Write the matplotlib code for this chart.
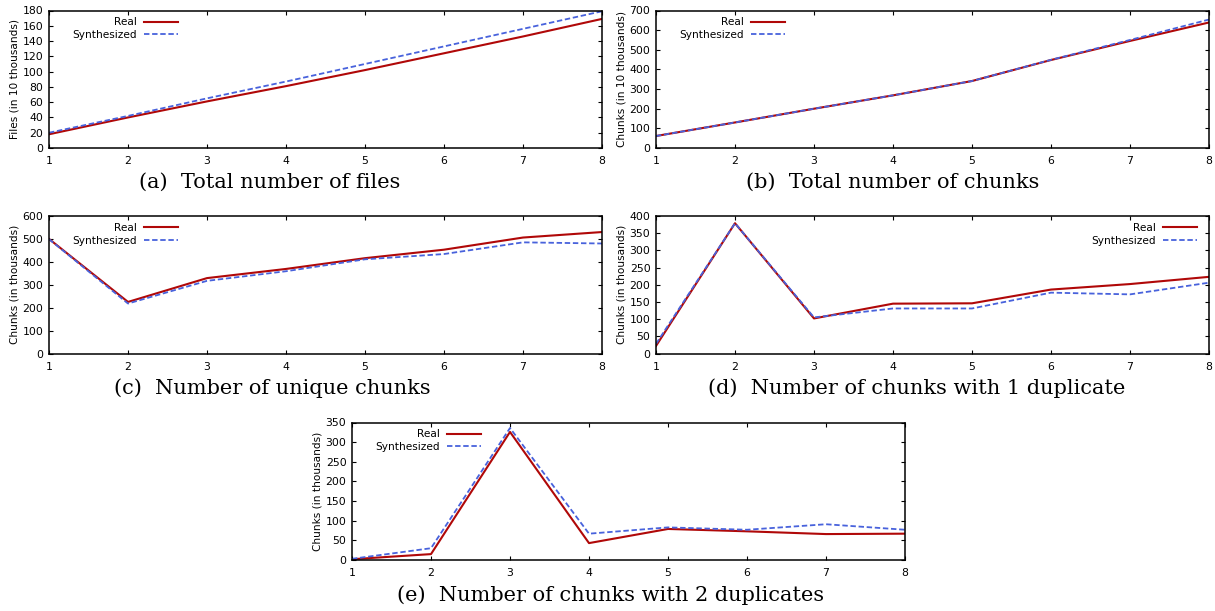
import matplotlib
matplotlib.use("Agg")
import matplotlib.pyplot as plt

plt.rcParams['font.family'] = ['DejaVu Sans']

# x axis: 1..8
x = [1, 2, 3, 4, 5, 6, 7, 8]

# (a) files, in 10 thousands
files_real = [18, 40, 61, 81, 102, 124, 146, 169]
files_syn = [20, 42, 65, 87, 110, 133, 156, 179]

# (b) chunks, in 10 thousands
chunks_real = [61, 130, 200, 268, 341, 448, 545, 639]
chunks_syn = [61, 130, 200, 268, 341, 449, 550, 654]

# (c) unique chunks, in thousands
uniq_real = [500, 225, 329, 369, 416, 453, 506, 530]
uniq_syn = [499, 218, 317, 359, 411, 434, 485, 480]

# (d) chunks with 1 duplicate, in thousands
dup1_real = [22, 379, 102, 145, 146, 186, 202, 223]
dup1_syn = [28, 379, 105, 131, 131, 177, 172, 206]

# (e) chunks with 2 duplicates, in thousands
dup2_real = [2, 15, 326, 43, 79, 73, 66, 67]
dup2_syn = [3, 30, 336, 67, 83, 77, 91, 77]

captions = ["(a)  Total number of files", "(b)  Total number of chunks",
            "(c)  Number of unique chunks", "(d)  Number of chunks with 1 duplicate",
            "(e)  Number of chunks with 2 duplicates"]
ylabels = ["Files (in 10 thousands)", "Chunks (in 10 thousands)",
           "Chunks (in thousands)", "Chunks (in thousands)", "Chunks (in thousands)"]

RED = '#b00808'
BLUE = '#4862dc'

W, H = 1215, 611
fig = plt.figure(figsize=(W / 100, H / 100), dpi=100)


def panel(left, top, real, syn, ymax, ystep, ylabel, legend_x):
    # axes position given in pixels of the reference picture
    ax = fig.add_axes([left / W, 1 - (top + 137.5) / H, 553 / W, 137.5 / H])
    ax.plot(x, real, color=RED, lw=1.5, label='Real')
    ax.plot(x, syn, color=BLUE, lw=1.3, dashes=(3, 1.5), label='Synthesized')
    ax.set_xlim(1, 8)
    ax.set_ylim(0, ymax)
    ax.set_xticks(x)
    ax.set_yticks(range(0, ymax + 1, ystep))
    ax.tick_params(direction='in', top=True, right=True, length=3.2, width=0.8,
                   labelsize=7.8, pad=4)
    ax.tick_params(axis='x', pad=6)
    for s in ax.spines.values():
        s.set_linewidth(1.1)
    ax.set_ylabel(ylabel, fontsize=7.6)
    ax.yaxis.set_label_coords(-29.5 / 553, 0.5)
    ax.legend(loc='upper right', bbox_to_anchor=(legend_x, 0.95), frameon=False,
              markerfirst=False, fontsize=7.6, handlelength=3.2, handletextpad=0.7,
              labelspacing=0.25, borderpad=0, borderaxespad=0)
    return ax


panel(49, 10.5, files_real, files_syn, 180, 20, ylabels[0], 0.233)
panel(656, 10.5, chunks_real, chunks_syn, 700, 100, ylabels[1], 0.233)
panel(49, 216, uniq_real, uniq_syn, 600, 100, ylabels[2], 0.233)
panel(656, 216, dup1_real, dup1_syn, 400, 50, ylabels[3], 0.978)
panel(352, 422.5, dup2_real, dup2_syn, 350, 50, ylabels[4], 0.233)

# subfigure captions (baseline positions)
cap_pos = [(270, 188), (893, 188), (272, 394), (917, 394), (611, 601)]
for (cx, cy), txt in zip(cap_pos, captions):
    fig.text(cx / W, 1 - cy / H, txt, ha='center', va='baseline',
             fontsize=15, family=['DejaVu Serif'])

plt.savefig('out.png', dpi=100)
